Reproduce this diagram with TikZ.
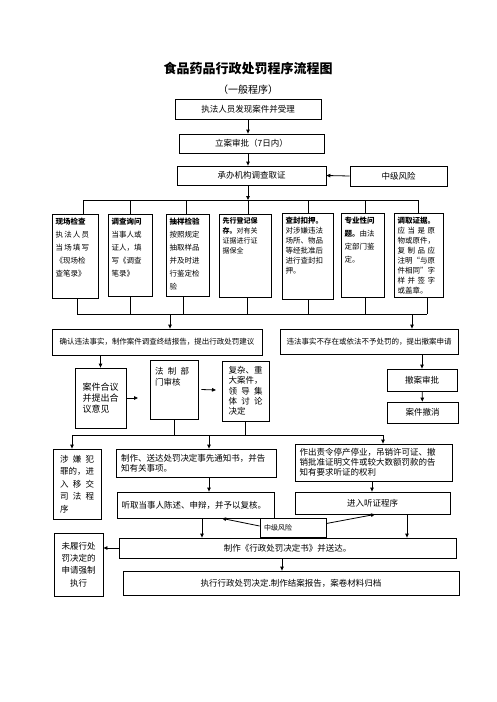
\documentclass[tikz,border=0pt]{standalone}
\usepackage{fontspec}
\setmainfont{Noto Sans CJK SC}
\usepackage{tikz}
\usetikzlibrary{arrows.meta, positioning, calc}
\tikzset{
  base/.style={draw=black, line width=0.8pt, align=center,
               font=\fontsize{8.5}{11}\selectfont, inner sep=2pt},
  flowbox/.style={base, minimum height=20pt},
  method/.style={base, line width=1.3pt, anchor=north west, align=left,
                 inner sep=3pt},
  arr/.style={-{Triangle[length=4pt,width=3.5pt]}, line width=0.8pt},
  link/.style={line width=0.8pt},
}

\begin{document}
\begin{tikzpicture}[x=1pt, y=-1pt]
  \useasboundingbox (0,0) rectangle (496,702);
  % Heading
  \node[font=\fontsize{13}{15}\selectfont\bfseries] (title) at (248,68) {食品药品行政处罚程序流程图};
  \node[font=\fontsize{10}{12}\selectfont] (sub) at (248,90) {（一般程序）};

  % Filing
  \node[flowbox, minimum width=146pt] (accept) at (248,109) {执法人员发现案件并受理};
  \node[flowbox, minimum width=145pt, minimum height=19pt] (approve) at (251.5,143.5) {立案审批（7日内）};
  \node[flowbox, minimum width=149pt, minimum height=19pt] (invest) at (251.5,175.5) {承办机构调查取证};
  \node[flowbox, minimum width=97pt] (risk1) at (398.5,176) {中级风险};
  \draw[arr] (accept.south) -- (accept.south |- approve.north);
  \draw[arr] (approve.south -| accept.south) -- (invest.north -| accept.south);
  \draw[arr] (risk1.west) -- (invest.east);

  % Evidence methods
  \node[method, font=\fontsize{7.5}{13}\selectfont] (b1) at (52,214)
    {\parbox[t][78pt][t]{40pt}{\textbf{现场检查}\\\makebox[33pt][s]{执 法 人 员}\\\makebox[33pt][s]{当 场 填 写}\\《现场检\\查笔录》}};
  \node[method, font=\fontsize{7.5}{13}\selectfont] (b2) at (108,214)
    {\parbox[t][76pt][t]{38pt}{\textbf{调查询问}\\当事人或\\证人，填\\写《调查\\笔录》}};
  \node[method, font=\fontsize{7.5}{13}\selectfont] (b3) at (166,214)
    {\parbox[t][76pt][t]{37pt}{\textbf{抽样检验}\\按照规定\\抽取样品\\并及时进\\行鉴定检\\验}};
  \node[method, font=\fontsize{7}{10}\selectfont] (b4) at (219,214)
    {\parbox[t][77pt][t]{46pt}{\textbf{先行登记保\\存。}对有关\\证据进行证\\据保全}};
  \node[method, font=\fontsize{7.5}{10}\selectfont] (b5) at (282,213)
    {\parbox[t][80pt][t]{45pt}{\textbf{查封扣押。}\\对涉嫌违法\\场所、物品\\等经批准后\\进行查封扣\\押。}};
  \node[method, font=\fontsize{7.5}{13}\selectfont] (b6) at (341,213)
    {\parbox[t][78pt][t]{37pt}{\textbf{专业性问\\题。}由法\\定部门鉴\\定。}};
  \node[method, font=\fontsize{7.5}{10}\selectfont] (b7) at (394,213)
    {\parbox[t][78pt][t]{43pt}{\textbf{调取证据。}\\\makebox[37.5pt][s]{应 当 是 原}\\物或原件，\\\makebox[37.5pt][s]{复 制 品 应}\\注明“与原\\件相同”字\\\makebox[37.5pt][s]{样 并 签 字}\\或盖章。}};
  \coordinate (fan) at (248,200);
  \draw[arr] (invest.south -| fan) -- (fan);
  \draw[link] (83,200) -- (418,200);
  \foreach \b/\x in {b1/83, b2/130, b3/186, b4/248, b5/308, b6/365, b7/418}
    \draw[link] (\x,200) -- (\x,200 |- \b.north);
  \draw[link] (77,314) -- (427,314);
  \foreach \b/\x in {b1/77, b2/130, b3/183, b4/247, b5/308, b6/365, b7/427}
    \draw[link] (\x,314 |- \b.south) -- (\x,314);

  % Findings
  \node[flowbox, minimum width=210pt, minimum height=26pt, font=\fontsize{7.5}{10}\selectfont] (confirm) at (157,342)
    {确认违法事实，制作案件调查终结报告，提出行政处罚建议};
  \node[flowbox, minimum width=178pt, minimum height=25pt, font=\fontsize{7.5}{10}\selectfont] (dismiss) at (369,341.5)
    {违法事实不存在或依法不予处罚的，提出撤案申请};
  \draw[arr] (170,314) -- (170,314 |- confirm.north);
  \draw[arr] (412,314) -- (412,314 |- dismiss.north);

  % Review
  \node[base, minimum width=51pt, minimum height=60pt, align=left, font=\fontsize{9}{11}\selectfont] (hearing) at (100.5,398)
    {案件合议\\并提出合\\议意见};
  \node[base, minimum width=48pt, minimum height=59pt, font=\fontsize{8.5}{11}\selectfont] (legal) at (174,389.5)
    {\parbox[t][53pt][t]{38pt}{\vspace*{4pt}\makebox[34pt][s]{法 制 部}\\门审核}};
  \node[base, minimum width=47pt, minimum height=60pt, align=left, font=\fontsize{8.5}{10.3}\selectfont] (complex) at (245.5,391)
    {复杂、重\\大案件，\\\makebox[34pt][s]{领 导 集}\\\makebox[34pt][s]{体 讨 论}\\决定};
  \node[flowbox, minimum width=70pt, minimum height=22pt] (withdraw) at (422,380) {撤案审批};
  \node[flowbox, minimum width=71pt, minimum height=21pt] (cancel) at (422.5,412.5) {案件撤消};
  \coordinate (hgap) at (138,398);
  \coordinate (lgap) at (216,390);
  \draw[arr] (hearing.north |- confirm.south) -- (hearing.north);
  \draw[arr] (hearing.east) -- (hgap);
  \draw[arr] ([xshift=3pt]legal.east) -- (lgap);
  \draw[arr] (withdraw.north |- dismiss.south) -- (withdraw.north);
  \draw[arr] (withdraw) -- (cancel);

  % Notification
  \coordinate (bus) at (72,435);
  \draw[link] (bus) -- (383,435);
  \draw[link] (legal.south) -- (legal.south |- bus);
  \draw[link] (complex.south) -- (complex.south |- bus);
  \node[base, minimum width=48pt, minimum height=70pt, align=left, font=\fontsize{8.5}{12.5}\selectfont] (crime) at (77,484)
    {\makebox[34pt][s]{涉 嫌 犯}\\罪的，进\\\makebox[34pt][s]{入 移 交}\\\makebox[34pt][s]{司 法 程}\\序};
  \node[base, minimum width=160pt, minimum height=28pt, text width=150pt, align=left, font=\fontsize{8.5}{10.5}\selectfont] (notice) at (196,463)
    {制作、送达处罚决定事先通知书，并告\\知有关事项。};
  \node[base, minimum width=157pt, minimum height=26pt, text width=148pt, align=left] (listen) at (195.5,505)
    {听取当事人陈述、申辩，并予以复核。};
  \node[base, minimum width=157pt, minimum height=37pt, text width=148pt, align=left, font=\fontsize{8.5}{9.8}\selectfont] (revoke) at (373.5,462.5)
    {作出责令停产停业，吊销许可证、撤\\销批准证明文件或较大数额罚款的告\\知有要求听证的权利};
  \node[flowbox, minimum width=155pt, minimum height=22pt] (hearproc) at (372.5,503) {进入听证程序};
  \draw[arr] (bus) -- (bus |- crime.north);
  \draw[arr] (209,435) -- (209,435 |- notice.north);
  \draw[arr] (383,435) -- (383,435 |- revoke.north);
  \draw[arr] (209,435 |- notice.south) -- (209,435 |- listen.north);
  \draw[arr] (372,435 |- revoke.south) -- (372,435 |- hearproc.north);

  % Decision
  \node[base, minimum width=66pt, minimum height=19pt, text width=58pt, align=left, font=\fontsize{7}{9}\selectfont] (risk2) at (293,527.5) {中级风险};
  \node[flowbox, minimum width=337pt] (decision) at (287.5,548) {制作《行政处罚决定书》并送达。};
  \node[base, minimum width=49pt, minimum height=63pt, font=\fontsize{8.5}{12.4}\selectfont] (unpaid) at (78.5,564.5)
    {未履行处\\罚决定的\\申请强制\\执行};
  \node[flowbox, minimum width=336pt, minimum height=24pt] (execute) at (291,583)
    {执行行政处罚决定.制作结案报告，案卷材料归档};
  \draw[arr] ([yshift=1.5pt]risk2.west) -- (222,0 |- listen.south);
  \draw[arr] ([yshift=4pt]risk2.east) -- (375,0 |- hearproc.south);
  \draw[arr] (202,0 |- listen.south) -- (202,0 |- decision.north);
  \draw[arr] (407,0 |- hearproc.south) -- (407,0 |- decision.north);
  \draw[arr] (decision.west) -- (decision.west -| unpaid.east);
  \draw[arr] (282,0 |- decision.south) -- (282,0 |- execute.north);
\end{tikzpicture}
\end{document}
